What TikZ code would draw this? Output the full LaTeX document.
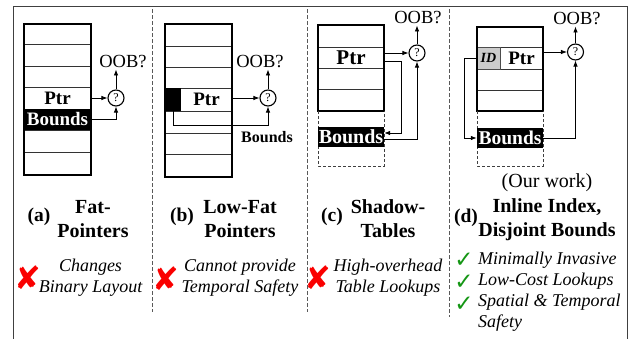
\documentclass[tikz,border=0pt]{standalone}
\usepackage{fontspec}
\setmainfont{Liberation Serif}
\newfontfamily\symfont{DejaVu Sans}
\usetikzlibrary{arrows.meta,calc}
\definecolor{ckgreen}{RGB}{20,150,20}
\definecolor{xred}{RGB}{250,0,0}
\begin{document}
\begin{tikzpicture}[x=1pt,y=-1pt,
  stackbox/.style={draw=black,line width=1.6pt},
  rowline/.style={draw=black!80,line width=0.7pt},
  dashbox/.style={draw=black!75,line width=0.8pt,dash pattern=on 3pt off 2pt},
  divider/.style={draw=black!65,line width=0.8pt,dash pattern=on 3.5pt off 2.5pt},
  arr/.style={-{Latex[length=6pt,width=4.5pt]},line width=0.8pt},
  qnode/.style={circle,draw,line width=1.1pt,minimum size=16pt,inner sep=0pt,font=\fontsize{12}{12}\selectfont},
  oob/.style={font=\fontsize{18.5}{20}\selectfont,inner sep=1pt},
  ptrcell/.style={minimum height=21pt,inner sep=0pt,font=\bfseries\fontsize{19}{20}\selectfont},
  bndcell/.style={fill=black,text=white,minimum width=67pt,minimum height=21pt,inner sep=0pt,font=\bfseries\fontsize{19}{20}\selectfont},
  title/.style={align=center,font=\bfseries\fontsize{20}{24}\selectfont},
  lbl/.style={font=\bfseries\fontsize{19.5}{22}\selectfont},
  desc/.style={align=center,font=\itshape\fontsize{18}{21}\selectfont},
  xmark/.style={text=xred,font=\symfont\fontsize{32}{32}\selectfont,inner sep=0pt},
  ckmark/.style={text=ckgreen,font=\symfont\fontsize{23}{23}\selectfont,inner sep=0pt}
]
\useasboundingbox (0,0) rectangle (631,338);
% frame
\draw[black!75,line width=0.9pt] (13,340) -- (13,6) -- (627,6) -- (627,340);
% dividers
\draw[divider] (152,9) -- (152,312);
\draw[divider] (307,9) -- (307,312);
\draw[divider] (449,9) -- (449,317);

% ---------- panel (a)
\foreach \y in {44,66,87,130,152} \draw[rowline] (24,\y) -- (91,\y);
\node[ptrcell,minimum width=67pt] (pa) at (57.5,98) {Ptr};
\node[bndcell] (ba) at (57.5,119.5) {Bounds};
\draw[stackbox] (24,24) rectangle (91,175);
\node[qnode] (qa) at (116,98) {?};
\node[oob] (oa) at (123,62) {OOB?};
\draw[arr] (pa.east) -- (qa.west);
\draw[arr] (ba.east) -| (qa.south);
\draw[arr] (qa.north) -- (qa.north |- oa.south);

% ---------- panel (b)
\foreach \y in {46,67,88,111,133,154} \draw[rowline] (165,\y) -- (232,\y);
\node[fill=black,minimum width=16pt,minimum height=23pt,inner sep=0pt] (bb) at (173,99.5) {};
\node[ptrcell,minimum width=51pt] (pb) at (206.5,99.5) {Ptr};
\draw[stackbox] (165,24) rectangle (232,177);
\node[qnode] (qb) at (268,98) {?};
\node[oob] (ob) at (260,62) {OOB?};
\node[font=\bfseries\fontsize{16}{18}\selectfont] (lb) at (267,137) {Bounds};
\draw[arr] (pb.east |- qb.west) -- (qb.west);
\draw[arr] (bb.south) -- ++(0,14) -| (qb.south);
\draw[arr] (qb.north) -- (qb.north |- ob.south);

% ---------- panel (c)
\foreach \y in {47,68,89} \draw[rowline] (318,\y) -- (384,\y);
\node[ptrcell,minimum width=66pt,font=\bfseries\fontsize{21}{22}\selectfont] (pc) at (351,57.5) {Ptr};
\draw[stackbox] (318,25) rectangle (384,111);
\draw[dashbox] (318,111) -- (318,166) -- (384,166) -- (384,111);
\node[bndcell,minimum width=66pt,minimum height=20pt,font=\bfseries\fontsize{20}{20}\selectfont] (bc) at (351,137) {Bounds};
\node[qnode] (qc) at (417,53) {?};
\node[oob] (oc) at (418,18) {OOB?};
\draw[arr] (pc.east |- qc.west) -- (qc.west);
\draw[arr] ($(pc.east)+(0,4)$) -- ++(17,0) |- ($(bc.east)+(0,-4)$);
\draw[arr] ($(bc.east)+(0,2)$) -| (qc.south);
\draw[arr] (qc.north) -- (qc.north |- oc.south);

% ---------- panel (d)
\foreach \y in {47,69,90} \draw[rowline] (477,\y) -- (543,\y);
\node[fill=black!20,draw=black!70,line width=0.7pt,minimum width=23pt,minimum height=22pt,inner sep=0pt,font=\bfseries\itshape\fontsize{14}{14}\selectfont] (id) at (488.5,58) {ID};
\node[ptrcell,minimum width=43pt] (pd) at (521.5,58) {Ptr};
\draw[stackbox] (477,27) rectangle (543,111);
\draw[dashbox] (477,111) -- (477,166) -- (543,166) -- (543,111);
\node[bndcell,minimum width=66pt,minimum height=20pt,font=\bfseries\fontsize{19.5}{20}\selectfont] (bd) at (510,138) {Bounds};
\node[qnode] (qd) at (575.5,52) {?};
\node[oob] (od) at (577,19) {OOB?};
\draw[arr] (pd.east |- qd.west) -- (qd.west);
\draw[arr] (id.west) -- ++(-12,0) |- (bd.west);
\draw[arr] (bd.east) -| (qd.south);
\draw[arr] (qd.north) -- (qd.north |- od.south);

% ---------- captions
\node[lbl] (la) at (39,217) {(a)};
\node[title] (ta) at (93,219) {Fat-\\Pointers};
\node[xmark] (xa) at (28,278) {✘};
\node[desc] (da) at (90.5,277.5) {Changes\\Binary Layout};

\node[lbl] (lbb) at (182,217) {(b)};
\node[title] (tb) at (240,219) {Low-Fat\\Pointers};
\node[xmark] (xb) at (166,279) {✘};
\node[desc] (db) at (240,277.5) {Cannot provide\\Temporal Safety};

\node[lbl] (lc) at (332,217) {(c)};
\node[title] (tc) at (388,219) {Shadow-\\Tables};
\node[xmark] (xc) at (318,278) {✘};
\node[desc] (dc) at (388,277.5) {High-overhead\\Table Lookups};

\node[font=\fontsize{20}{22}\selectfont] (ow) at (547,183) {(Our work)};
\node[lbl] (ld) at (466,218) {(d)};
\node[title] (td) at (547,220) {Inline Index,\\Disjoint Bounds};
\node[ckmark] (c1) at (464,260) {✓};
\node[ckmark] (c2) at (464,282) {✓};
\node[ckmark] (c3) at (464,304) {✓};
\node[align=left,anchor=west,inner sep=0pt,font=\itshape\fontsize{18}{21}\selectfont] (dd) at (478,291.5) {Minimally Invasive\\Low-Cost Lookups\\Spatial \& Temporal\\Safety};
\end{tikzpicture}
\end{document}
